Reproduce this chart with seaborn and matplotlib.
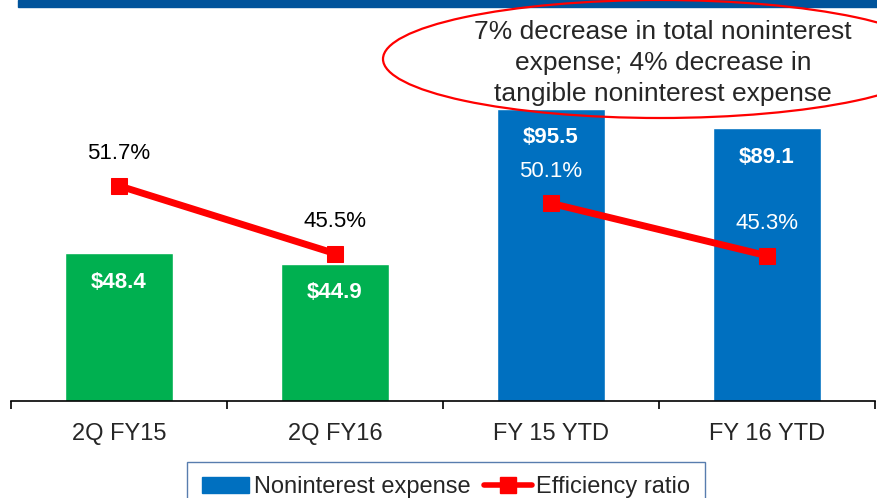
import numpy as np
import pandas as pd
import matplotlib.pyplot as plt
import seaborn as sns
from matplotlib.patches import Ellipse, Rectangle, Patch
from matplotlib.lines import Line2D

# Datos del grafico
categories = ['2Q FY15', '2Q FY16', 'FY 15 YTD', 'FY 16 YTD']
expense = [48.4, 44.9, 95.5, 89.1]
ratio = [51.7, 45.5, 50.1, 45.3]
period = ['quarter', 'quarter', 'ytd', 'ytd']
bar_colors = ['#00B050', '#00B050', '#0070C0', '#0070C0']
pct_colors = ['black', 'black', 'white', 'white']
note = '7% decrease in total noninterest\nexpense; 4% decrease in\ntangible noninterest expense'

sns.set_style('white')
plt.rcParams['font.family'] = ['Liberation Sans', 'DejaVu Sans']

data = pd.DataFrame({'category': categories, 'expense': expense, 'ratio': ratio,
                     'period': period, 'pos': np.arange(len(categories))})

fig = plt.figure(figsize=(8.77, 4.98), dpi=100)
ax = fig.add_axes([11 / 877, 1 - 401 / 498, 864 / 877, 391 / 498])

# Barras
sns.barplot(data=data, x='category', y='expense', hue='category', palette=bar_colors,
            width=0.5, legend=False, saturation=1, ax=ax)
ax.set_ylim(0, 127.8)
ax.set_xlim(-0.5, 3.5)
for i, v in enumerate(expense):
    ax.annotate(f'${v}', (i, v), xytext=(0, -21), textcoords='offset points',
                ha='center', va='center', color='white', fontsize=16, fontweight='bold')

# Linea del ratio de eficiencia (un tramo por periodo)
ax2 = ax.twinx()
sns.lineplot(data=data, x='pos', y='ratio', hue='period', palette=['#FF0000', '#FF0000'],
             linewidth=5, marker='s', markersize=12, markeredgecolor='#FF0000',
             legend=False, ax=ax2)
ax2.set_ylim(32.0, 67.8)
ax2.set_xlim(-0.5, 3.5)
for i, v in enumerate(ratio):
    ax2.annotate(f'{v}%', (i, v), xytext=(0, 23), textcoords='offset points',
                 ha='center', va='center', color=pct_colors[i], fontsize=16)

# Ejes
for a in (ax, ax2):
    for s in ['top', 'right', 'left']:
        a.spines[s].set_visible(False)
    a.set_yticks([])
    a.set_ylabel('')
ax2.spines['bottom'].set_visible(False)
ax2.set_xlabel('')
ax.spines['bottom'].set_color('black')
ax.spines['bottom'].set_linewidth(1.2)
ax.set_xlabel('')
ax.set_xticks(range(len(categories)))
ax.set_xticklabels(categories, fontsize=17)
ax.set_xticks(np.arange(-0.5, 4, 1), minor=True)
ax.tick_params(axis='x', which='major', length=0, pad=16)
ax.tick_params(axis='x', which='minor', length=6, width=1.2, color='black', direction='out', bottom=True)

# Banda superior
fig.add_artist(Rectangle((18 / 877, 1 - 7 / 498), 1, 7 / 498, transform=fig.transFigure,
                         color='#00539B', clip_on=False))

# Elipse con la nota
fig.add_artist(Ellipse((660 / 877, 1 - 59 / 498), 554 / 877, 118 / 498, transform=fig.transFigure,
                       fill=False, edgecolor='#FF0000', linewidth=1.6, clip_on=False, zorder=10))
fig.text(663 / 877, 1 - 63 / 498, note, ha='center', va='center', fontsize=19,
         linespacing=1.38, zorder=11)

# Leyenda
handles = [Patch(facecolor='#0070C0', edgecolor='#0070C0'),
           Line2D([0], [0], color='#FF0000', linewidth=4, marker='s', markersize=12)]
fig.legend(handles, ['Noninterest expense', 'Efficiency ratio'], loc='upper center',
           bbox_to_anchor=(446 / 877, 1 - 462 / 498), ncol=2, fontsize=17, frameon=True,
           fancybox=False, edgecolor='#2E5C9A', handlelength=2.0, handletextpad=0.2,
           columnspacing=0.6, borderpad=0.6, borderaxespad=0)

plt.savefig('out.png', dpi=100)
